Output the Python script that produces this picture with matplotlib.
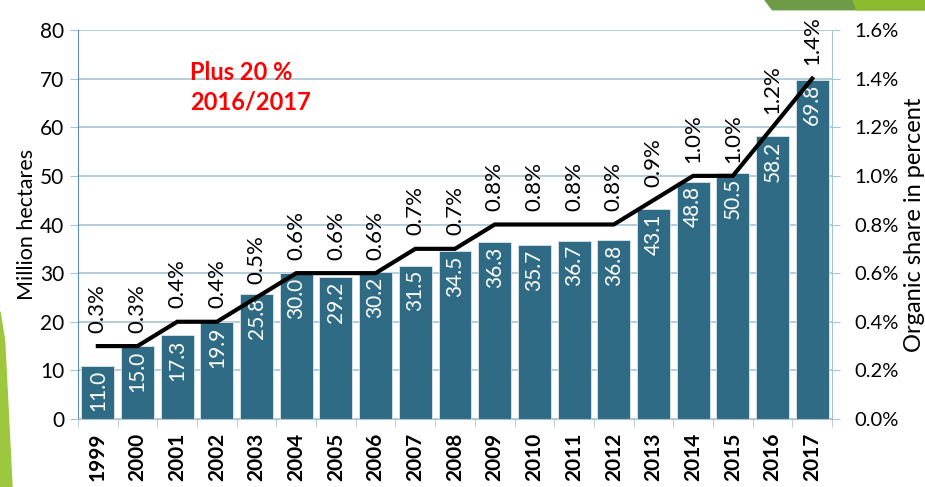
import matplotlib
matplotlib.use('Agg')
import matplotlib.pyplot as plt
from matplotlib.patches import Polygon
import numpy as np

years = ["1999", "2000", "2001", "2002", "2003", "2004", "2005", "2006", "2007",
         "2008", "2009", "2010", "2011", "2012", "2013", "2014", "2015", "2016", "2017"]
hectares = [11.0, 15.0, 17.3, 19.9, 25.8, 30.0, 29.2, 30.2, 31.5,
            34.5, 36.3, 35.7, 36.7, 36.8, 43.1, 48.8, 50.5, 58.2, 69.8]
share = [0.3, 0.3, 0.4, 0.4, 0.5, 0.6, 0.6, 0.6, 0.7,
         0.7, 0.8, 0.8, 0.8, 0.8, 0.9, 1.0, 1.0, 1.2, 1.4]
left_ticks = [0, 10, 20, 30, 40, 50, 60, 70, 80]
right_ticks = [0.0, 0.2, 0.4, 0.6, 0.8, 1.0, 1.2, 1.4, 1.6]

BAR = "#2F6B85"
GRID = "#A9C3D1"
SPINE = "#5F8CA6"

plt.rcParams['font.family'] = ['Lato', 'DejaVu Sans']

fig = plt.figure(figsize=(9.25, 4.87), dpi=100)
ax = fig.add_axes([0.0843, 0.1396, 0.8152, 0.7988])
ax2 = ax.twinx()

x = np.arange(len(years))
ax.bar(x, hectares, width=0.83, color=BAR, edgecolor="#DCE6EC", linewidth=0.6, zorder=2)
for xi, v in zip(x, hectares):
    ax.text(xi, v - 0.9, f"{v:.1f}", rotation=90, ha='center', va='top',
            color='white', fontsize=15, zorder=3)

ax.set_xlim(-0.5, len(years) - 0.5)
ax.set_ylim(0, 80)
ax.set_yticks(left_ticks)
ax.set_yticklabels([str(t) for t in left_ticks], fontsize=15)
ax.set_xticks(x)
ax.set_xticklabels(years, rotation=90, fontsize=15, fontweight='bold')
ax.tick_params(axis='x', length=0, pad=10)
ax.set_xticks(np.arange(len(years) + 1) - 0.5, minor=True)
ax.tick_params(axis='x', which='minor', length=6, color=GRID)
ax.tick_params(axis='y', length=6, color=GRID, pad=4)
ax.grid(axis='y', color=GRID, linewidth=1.2, zorder=0)
ax.set_axisbelow(True)
ax.set_ylabel("Million hectares", fontsize=15.5, labelpad=2)

ax.spines['top'].set_visible(False)
ax2.spines['top'].set_visible(False)
ax.spines['left'].set_color(SPINE)
ax.spines['bottom'].set_color(GRID)
ax.spines['right'].set_visible(False)
ax2.spines['left'].set_visible(False)
ax2.spines['bottom'].set_visible(False)
ax2.spines['right'].set_color(GRID)

ax2.plot(x, share, color='black', linewidth=3, zorder=4, solid_joinstyle='miter')
for xi, v in zip(x, share):
    ax2.text(xi, v + 0.055, f"{v:.1f}%", rotation=90, ha='center', va='bottom',
             color='black', fontsize=16, zorder=5)
ax2.set_ylim(0, 1.6)
ax2.set_yticks(right_ticks)
ax2.set_yticklabels([f"{t:.1f}%" for t in right_ticks], fontsize=14.5)
ax2.tick_params(axis='y', length=6, color=GRID, pad=10)
ax2.set_ylabel("Organic share in percent", fontsize=17, labelpad=4)

ax.text(0.149, 0.853, "Plus 20 %\n2016/2017", transform=ax.transAxes, color='red',
        fontsize=17, fontweight='bold', ha='left', va='center', linespacing=1.35)

# slide decoration (green corner shapes)
fig.patches.append(Polygon([[0.827, 1.0], [0.835, 0.98], [1.0, 0.98], [1.0, 1.0]],
                           closed=True, transform=fig.transFigure, color="#6E9B46", zorder=0))
fig.patches.append(Polygon([[0.922, 1.0], [0.926, 0.98], [1.0, 0.98], [1.0, 1.0]],
                           closed=True, transform=fig.transFigure, color="#8DBB2E", zorder=0))
fig.patches.append(Polygon([[0.0, 0.36], [0.005, 0.30], [0.013, 0.0], [0.0, 0.0]],
                           closed=True, transform=fig.transFigure, color="#9DC73F", zorder=0))

fig.savefig("out.png", dpi=100)
